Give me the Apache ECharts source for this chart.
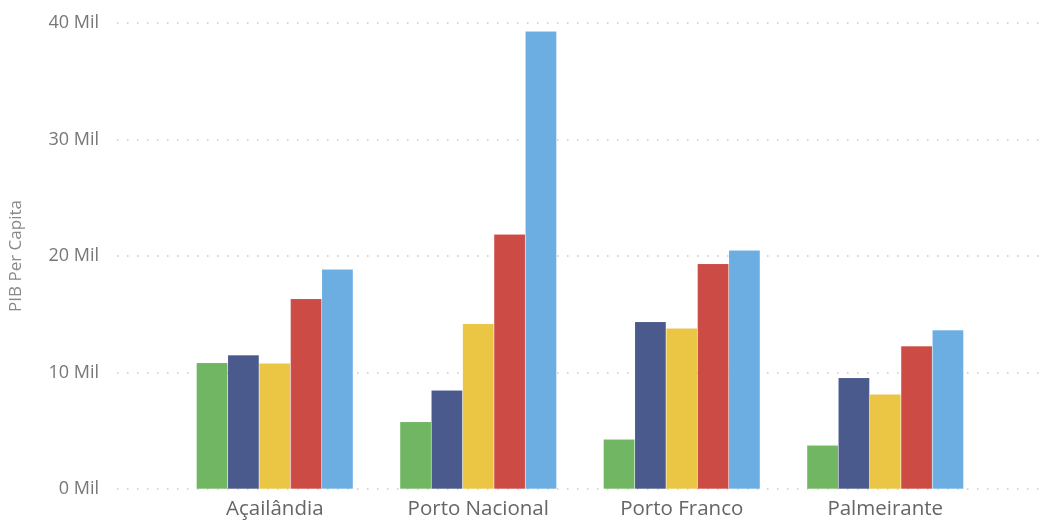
<!DOCTYPE html>
<html>
<head>
<meta charset="utf-8">
<script src="https://cdn.jsdelivr.net/npm/echarts@6/dist/echarts.min.js"></script>
<style>
  html, body { margin: 0; padding: 0; background: #fff; }
  #chart { width: 1040px; height: 520px; }
</style>
</head>
<body>
<div id="chart"></div>
<script>
// Municipalities on the category axis
const categories = ['Açailândia', 'Porto Nacional', 'Porto Franco', 'Palmeirante'];

// PIB per capita (thousands) for each of the five series, one value per municipality
const serieA = [10.84, 5.78, 4.27, 3.75];
const serieB = [11.5, 8.47, 14.36, 9.55];
const serieC = [10.8, 14.19, 13.79, 8.13];
const serieD = [16.33, 21.86, 19.34, 12.27];
const serieE = [18.86, 39.3, 20.49, 13.65];

const yTicks = [0, 10, 20, 30, 40];

const colors = ['#71b662', '#4a5a8c', '#ebc544', '#cc4c45', '#6daee2'];
const seriesData = [serieA, serieB, serieC, serieD, serieE];

const font = '"Open Sans", "Noto Sans", sans-serif';
const yMin = yTicks[0], yMax = yTicks[yTicks.length - 1];

const chart = echarts.init(document.getElementById('chart'));
chart.setOption({
  animation: false,
  grid: [
    // full-width grid carrying the value axis, labels and dotted gridlines
    { left: 115, right: 0, top: 23, bottom: 31 },
    // inner grid carrying the bars and category labels
    { left: 173, right: 53, top: 23, bottom: 31 }
  ],
  xAxis: [
    { gridIndex: 0, type: 'category', data: categories, show: false },
    {
      gridIndex: 1, type: 'category', data: categories,
      axisLine: { show: false }, axisTick: { show: false },
      axisLabel: { color: '#666', fontSize: 20.5, fontFamily: font, margin: 10 }
    }
  ],
  yAxis: [
    {
      gridIndex: 0, type: 'value', min: yMin, max: yMax, interval: 10,
      name: 'PIB Per Capita', nameLocation: 'middle', nameGap: 92,
      nameTextStyle: { color: '#888', fontSize: 17, fontFamily: font },
      axisLine: { show: false }, axisTick: { show: false },
      axisLabel: {
        color: '#777', fontSize: 18, fontFamily: font, margin: 18,
        formatter: v => v + ' Mil'
      },
      splitLine: { lineStyle: { color: '#c8c8c8', type: [1.5, 8.5], width: 1.5 } }
    },
    {
      gridIndex: 1, type: 'value', min: yMin, max: yMax, interval: 10,
      show: false, splitLine: { show: false }
    }
  ],
  series: seriesData.map((d, i) => ({
    type: 'bar',
    xAxisIndex: 1,
    yAxisIndex: 1,
    data: d,
    barGap: '0%',
    barCategoryGap: '23%',
    itemStyle: { color: colors[i], borderColor: 'rgba(255,255,255,0.2)', borderWidth: 0.5 }
  }))
});
</script>
</body>
</html>
